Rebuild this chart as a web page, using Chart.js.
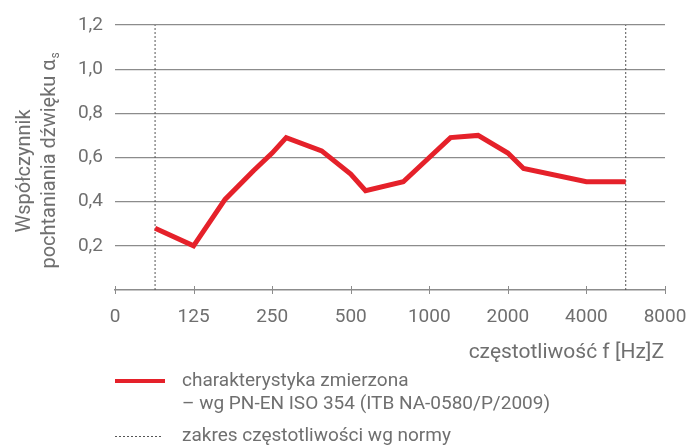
<!DOCTYPE html>
<html>
<head>
<meta charset="utf-8">
<script src="https://cdn.jsdelivr.net/npm/chart.js@4"></script>
<style>
  body { margin: 0; background: #fff; }
  canvas { display: block; }
</style>
</head>
<body>
<canvas id="chart" width="690" height="446"></canvas>
<script>
// measured frequencies [Hz] and absorption coefficient
const freqs = [89, 125, 165, 212, 250, 283, 387, 500, 570, 795, 1000, 1206, 1538, 2000, 2297, 4000, 5657];
const alpha = [0.28, 0.20, 0.41, 0.54, 0.62, 0.69, 0.63, 0.525, 0.45, 0.49, 0.60, 0.69, 0.70, 0.62, 0.55, 0.49, 0.49];
const normRange = [89, 5657];
const xTickLabels = ['0', '125', '250', '500', '1000', '2000', '4000', '8000'];
const yTicks = [0.2, 0.4, 0.6, 0.8, 1.0, 1.2];

const FONT = 'Roboto, "DejaVu Sans", sans-serif';
const TEXT = '#6f6f6f';
const GRID = '#8c8c8c';

// octave position, label "0" sits one octave below 125 Hz
function oct(f) {
    return Math.log2(f / 62.5);
}

const dataLine = freqs.map(function (f, i) {
    return { x: oct(f), y: alpha[i] };
});

const rangeSets = normRange.map(function (f) {
    return {
        label: 'zakres częstotliwości wg normy',
        data: [{ x: oct(f), y: 0 }, { x: oct(f), y: 1.2 }],
        borderColor: '#555',
        borderWidth: 1,
        borderDash: [2, 2],
        pointRadius: 0,
    };
});

const overlay = {
    id: 'overlay',
    afterDraw: function (chart) {
        const ctx = chart.ctx;
        const xs = chart.scales.x;
        const area = chart.chartArea;

        // axis ticks crossing the bottom line
        ctx.save();
        ctx.strokeStyle = GRID;
        ctx.lineWidth = 1;
        xs.ticks.forEach(function (t) {
            const px = Math.round(xs.getPixelForValue(t.value)) + 0.5;
            ctx.beginPath();
            ctx.moveTo(px, area.bottom - 4);
            ctx.lineTo(px, area.bottom + 4);
            ctx.stroke();
        });
        ctx.restore();

        ctx.save();
        ctx.fillStyle = TEXT;
        ctx.font = '20px ' + FONT;
        ctx.textAlign = 'center';
        ctx.textBaseline = 'middle';

        // y title, two lines
        ctx.save();
        ctx.translate(25, 171);
        ctx.rotate(-Math.PI / 2);
        ctx.fillText('Współczynnik', 0, 0);
        ctx.restore();

        ctx.save();
        ctx.translate(50, 160);
        ctx.rotate(-Math.PI / 2);
        const main = 'pochtaniania dźwięku α';
        const w = ctx.measureText(main).width;
        ctx.textAlign = 'left';
        ctx.fillText(main, -w / 2 - 4, 0);
        ctx.font = '12px ' + FONT;
        ctx.fillText('s', w / 2 - 3, 6);
        ctx.restore();

        // x title
        ctx.font = '21px ' + FONT;
        ctx.textAlign = 'right';
        ctx.fillText('częstotliwość f [Hz]Z', 664, 353);

        // legend
        const ds = chart.data.datasets;
        ctx.font = '19px ' + FONT;
        ctx.strokeStyle = ds[0].borderColor;
        ctx.lineWidth = 4;
        ctx.beginPath();
        ctx.moveTo(115, 381);
        ctx.lineTo(165, 381);
        ctx.stroke();

        ctx.strokeStyle = ds[1].borderColor;
        ctx.lineWidth = 1;
        ctx.setLineDash(ds[1].borderDash);
        ctx.beginPath();
        ctx.moveTo(115, 436.5);
        ctx.lineTo(163, 436.5);
        ctx.stroke();
        ctx.setLineDash([]);

        ctx.textAlign = 'left';
        ctx.fillText(ds[0].label, 182, 381);
        ctx.fillText('– wg PN-EN ISO 354 (ITB NA-0580/P/2009)', 182, 404);
        ctx.fillText(ds[1].label, 182, 436);
        ctx.restore();
    }
};

new Chart(document.getElementById('chart'), {
    type: 'line',
    data: {
        datasets: [
            {
                label: 'charakterystyka zmierzona',
                data: dataLine,
                borderColor: '#e5212a',
                borderWidth: 5,
                pointRadius: 0,
                tension: 0,
            }
        ].concat(rangeSets)
    },
    options: {
        responsive: false,
        animation: false,
        layout: { padding: { top: 25, right: 25, left: 0, bottom: 0 } },
        scales: {
            x: {
                type: 'linear',
                min: 0,
                max: 7,
                afterFit: function (s) {
                    s.height = 156;
                    s.paddingLeft = 0;
                    s.paddingRight = 0;
                },
                afterBuildTicks: function (s) {
                    s.ticks = xTickLabels.map(function (l, i) { return { value: i }; });
                },
                grid: { display: false, drawTicks: false },
                border: { display: true, color: GRID, width: 1.5 },
                ticks: {
                    padding: 16,
                    color: TEXT,
                    font: { family: FONT, size: 19 },
                    maxRotation: 0,
                    autoSkip: false,
                    callback: function (v) { return xTickLabels[v]; }
                }
            },
            y: {
                min: 0,
                max: 1.2,
                afterFit: function (s) {
                    s.width = 115;
                    s.paddingTop = 0;
                    s.paddingBottom = 0;
                },
                afterBuildTicks: function (s) {
                    s.ticks = yTicks.map(function (v) { return { value: v }; });
                },
                grid: { color: GRID, lineWidth: 1.2, drawTicks: false },
                border: { display: false },
                ticks: {
                    padding: 12,
                    color: TEXT,
                    font: { family: FONT, size: 19 },
                    callback: function (v) { return v.toFixed(1).replace('.', ','); }
                }
            }
        },
        plugins: {
            legend: { display: false },
            tooltip: { enabled: false }
        }
    },
    plugins: [overlay]
});
</script>
</body>
</html>
